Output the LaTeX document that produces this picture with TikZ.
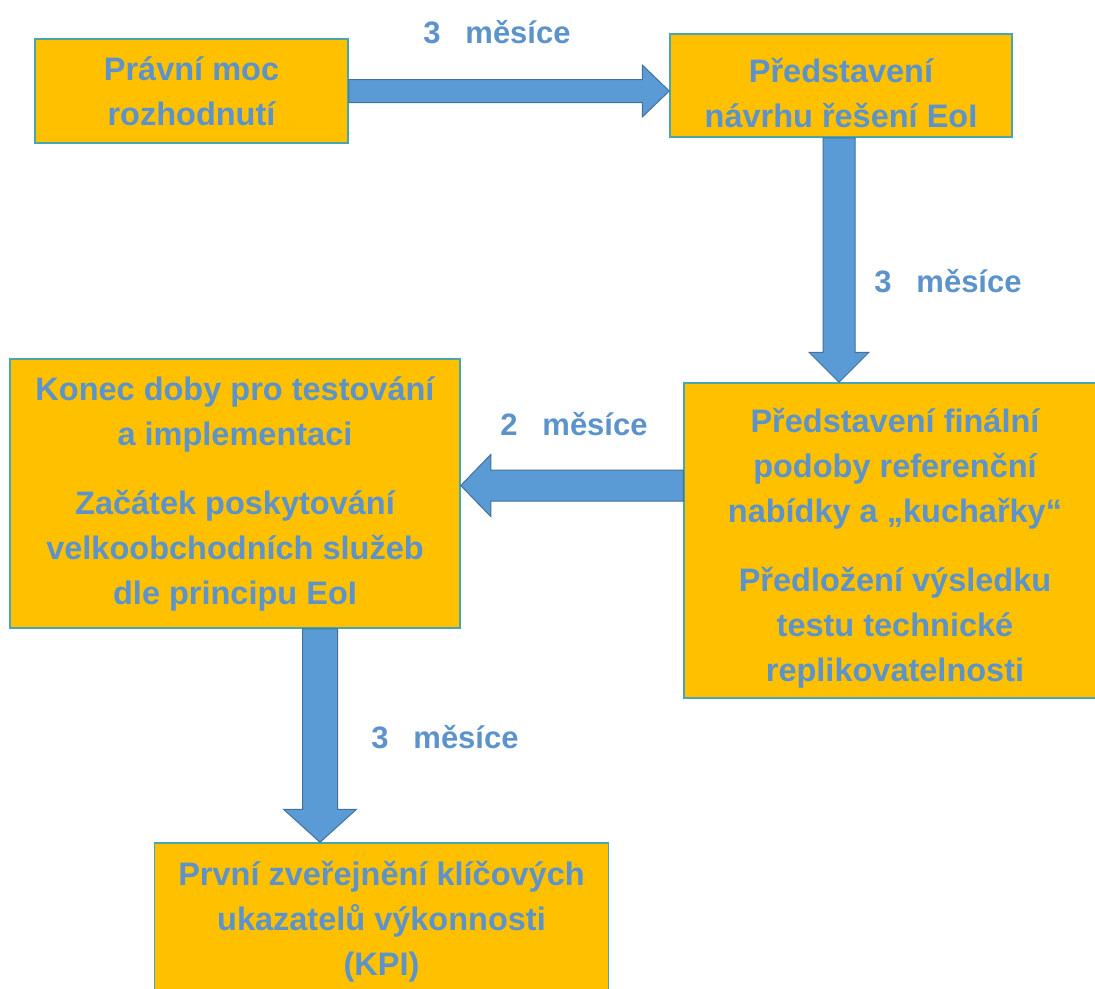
\documentclass[tikz,border=0pt]{standalone}
\usepackage{fontspec}
\setmainfont{Liberation Sans}
\usetikzlibrary{positioning, calc}
\definecolor{boxfill}{RGB}{255,192,0}
\definecolor{boxline}{RGB}{75,165,175}
\definecolor{arrfill}{RGB}{91,155,213}
\definecolor{arrline}{RGB}{65,113,156}
\definecolor{txtblue}{RGB}{92,147,203}

\begin{document}
\begin{tikzpicture}[x=1pt, y=-1pt,
    krok/.style={draw=boxline, line width=1.5pt, fill=boxfill, text=txtblue,
      font=\bfseries\fontsize{32.5}{45}\selectfont, align=center, inner sep=0pt},
    sipka/.style={fill=arrfill, draw=arrline, line width=1pt, line join=miter},
    lhuta/.style={text=txtblue, font=\bfseries\fontsize{31}{38}\selectfont, anchor=base}]
  \useasboundingbox (0,0) rectangle (1095,988);

  % kroky
  \node[krok, minimum width=313pt, minimum height=104pt] (prav) at (191.5,91)
    {Právní moc\\rozhodnutí};
  \node[krok, minimum width=342pt, minimum height=103pt] (navrh) at (841,85.5)
    {\rule{0pt}{40pt}Představení\\návrhu řešení EoI};
  \node[krok, minimum width=422pt, minimum height=315pt] (final) at (895,540.5)
    {\rule{0pt}{40pt}Představení finální\\podoby referenční\\nabídky a „kuchařky“\\[24pt]Předložení výsledku\\testu technické\\replikovatelnosti};
  \node[krok, minimum width=450pt, minimum height=269pt] (konec) at (235,493.5)
    {Konec doby pro testování\\a implementaci\\[24pt]Začátek poskytování\\velkoobchodních služeb\\dle principu EoI};
  \node[krok, minimum width=454pt, minimum height=157pt] (kpi) at (381.5,921.5)
    {První zveřejnění klíčových\\ukazatelů výkonnosti\\(KPI)};

  % sipky
  \coordinate (t1) at (navrh.west |- prav.east);
  \draw[sipka] ($(prav.east)+(0,-11.5)$) -- ($(t1)+(-27,-11.5)$) -- ($(t1)+(-27,-26)$) -- (t1)
    -- ($(t1)+(-27,26)$) -- ($(t1)+(-27,11.5)$) -- ($(prav.east)+(0,11.5)$) -- cycle;

  \coordinate (s2) at ($(navrh.south)+(-2,0)$);
  \coordinate (t2) at (s2 |- final.north);
  \draw[sipka] ($(s2)+(-16,0)$) -- ($(t2)+(-16,-30)$) -- ($(t2)+(-30,-30)$) -- (t2)
    -- ($(t2)+(30,-30)$) -- ($(t2)+(16,-30)$) -- ($(s2)+(16,0)$) -- cycle;

  \coordinate (s3) at ($(final.west)+(0,-55)$);
  \coordinate (t3) at (konec.east |- s3);
  \draw[sipka] ($(s3)+(0,-15.5)$) -- ($(t3)+(30,-15.5)$) -- ($(t3)+(30,-31)$) -- (t3)
    -- ($(t3)+(30,31)$) -- ($(t3)+(30,15.5)$) -- ($(s3)+(0,15.5)$) -- cycle;

  \coordinate (s4) at ($(konec.south)+(85,0)$);
  \coordinate (t4) at (s4 |- kpi.north);
  \draw[sipka] ($(s4)+(-17.5,0)$) -- ($(t4)+(-17.5,-33)$) -- ($(t4)+(-36.5,-33)$) -- (t4)
    -- ($(t4)+(36.5,-33)$) -- ($(t4)+(17.5,-33)$) -- ($(s4)+(17.5,0)$) -- cycle;

  % lhuty
  \node[lhuta] (l1) at (497,43) {3\hspace{0.8em}měsíce};
  \node[lhuta] (l2) at (948,292) {3\hspace{0.8em}měsíce};
  \node[lhuta] (l3) at (574,435) {2\hspace{0.8em}měsíce};
  \node[lhuta] (l4) at (445,748) {3\hspace{0.8em}měsíce};
\end{tikzpicture}
\end{document}
